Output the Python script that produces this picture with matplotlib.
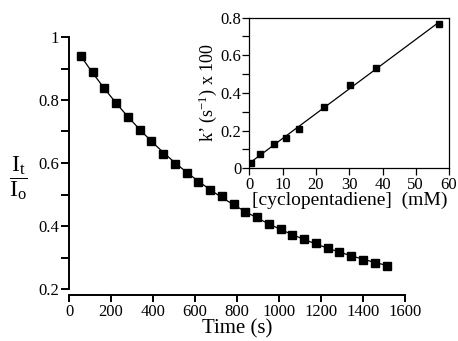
import numpy as np
import matplotlib
matplotlib.use("Agg")
import matplotlib.pyplot as plt
from matplotlib.ticker import MultipleLocator

# ---- data ----
time_s = [56, 112, 168, 224, 280, 336, 392, 448, 504, 560, 616, 672, 728, 784,
          840, 896, 952, 1008, 1064, 1120, 1176, 1232, 1288, 1344, 1400, 1456, 1512]
ratio = [0.940, 0.890, 0.837, 0.790, 0.746, 0.705, 0.669, 0.630, 0.598, 0.568,
         0.540, 0.513, 0.494, 0.471, 0.446, 0.428, 0.407, 0.392, 0.373, 0.359,
         0.345, 0.331, 0.319, 0.306, 0.293, 0.283, 0.272]

conc_mM = [0.5, 3.3, 7.3, 11.1, 14.9, 22.5, 30.3, 37.9, 57.1]
k_obs = [0.03, 0.075, 0.13, 0.16, 0.211, 0.327, 0.443, 0.534, 0.764]

main_xticks = [0, 200, 400, 600, 800, 1000, 1200, 1400, 1600]
main_yticks = [0.2, 0.4, 0.6, 0.8, 1.0]
main_yticklabels = ["0.2", "0.4", "0.6", "0.8", "1"]
inset_xticks = [0, 10, 20, 30, 40, 50, 60]
inset_yticks = [0, 0.2, 0.4, 0.6, 0.8]
inset_yticklabels = ["0", "0.2", "0.4", "0.6", "0.8"]

plt.rcParams["font.family"] = ["Liberation Serif", "DejaVu Serif"]
plt.rcParams["mathtext.fontset"] = "custom"
plt.rcParams["mathtext.rm"] = "Liberation Serif"
plt.rcParams["mathtext.it"] = "Liberation Serif:italic"

fig = plt.figure(figsize=(4.58, 3.41), dpi=100)
W, H = 458, 341

def rect(l, r, t, b):
    return [l / W, 1 - b / H, (r - l) / W, (b - t) / H]

# ---- main axes ----
ax = fig.add_axes(rect(69, 405, 37, 289))
t = np.array(time_s, float)
y = np.array(ratio, float)
# exponential fit y = a*exp(-k t) + c
best = None
for c in np.linspace(0.0, 0.26, 261):
    p = np.polyfit(t, np.log(y - c), 1)
    res = np.sum((np.exp(np.polyval(p, t)) + c - y) ** 2)
    if best is None or res < best[0]:
        best = (res, c, p)
_, cbest, pbest = best
tt = np.linspace(t.min(), t.max(), 300)
ax.plot(tt, np.exp(np.polyval(pbest, tt)) + cbest, color="black", lw=0.9, zorder=2)
ax.plot(t, y, ls="none", marker="s", ms=5.4, color="black", zorder=3)

ax.set_xlim(0, 1600)
ax.set_ylim(0.2, 1.0)
ax.set_xticks(main_xticks)
ax.set_yticks(main_yticks)
ax.set_yticklabels(main_yticklabels)
ax.yaxis.set_minor_locator(MultipleLocator(0.1))
for s in ["top", "right"]:
    ax.spines[s].set_visible(False)
for s in ["left", "bottom"]:
    ax.spines[s].set_linewidth(1.4)
ax.spines["bottom"].set_position(("outward", 4))
ax.tick_params(axis="both", which="both", direction="out", width=1.4, length=5,
               labelsize=12, pad=1.5)
ax.tick_params(axis="y", which="both", length=5.5)
ax.set_xlabel("Time (s)", fontsize=15, labelpad=0)
fig.text(18 / W, 1 - 178 / H,
         r"$\dfrac{\mathrm{I}_\mathrm{t}}{\mathrm{I}_\mathrm{o}}$",
         fontsize=17, ha="center", va="center")

# ---- inset ----
ai = fig.add_axes(rect(249.5, 449, 17.5, 168.3))
cx = np.array(conc_mM, float)
ky = np.array(k_obs, float)
pl = np.polyfit(cx, ky, 1)
xx = np.array([0.0, cx.max()])
ai.plot(xx, np.polyval(pl, xx), color="black", lw=0.9, zorder=2)
ai.plot(cx, ky, ls="none", marker="s", ms=3.8, color="black", zorder=3)
ai.set_xlim(0, 60)
ai.set_ylim(0, 0.8)
ai.set_xticks(inset_xticks)
ai.set_yticks(inset_yticks)
ai.set_yticklabels(inset_yticklabels)
ai.yaxis.set_minor_locator(MultipleLocator(0.1))
for s in ai.spines.values():
    s.set_linewidth(0.9)
ai.tick_params(axis="both", which="both", direction="out", width=0.9, length=5,
               labelsize=12, pad=1)
ai.set_xlabel("[cyclopentadiene]  (mM)", fontsize=14, labelpad=-1)
ai.set_ylabel("k\u2019 (s$^{-1}$) x 100", fontsize=13, labelpad=1)

fig.savefig("out.png", dpi=100)
